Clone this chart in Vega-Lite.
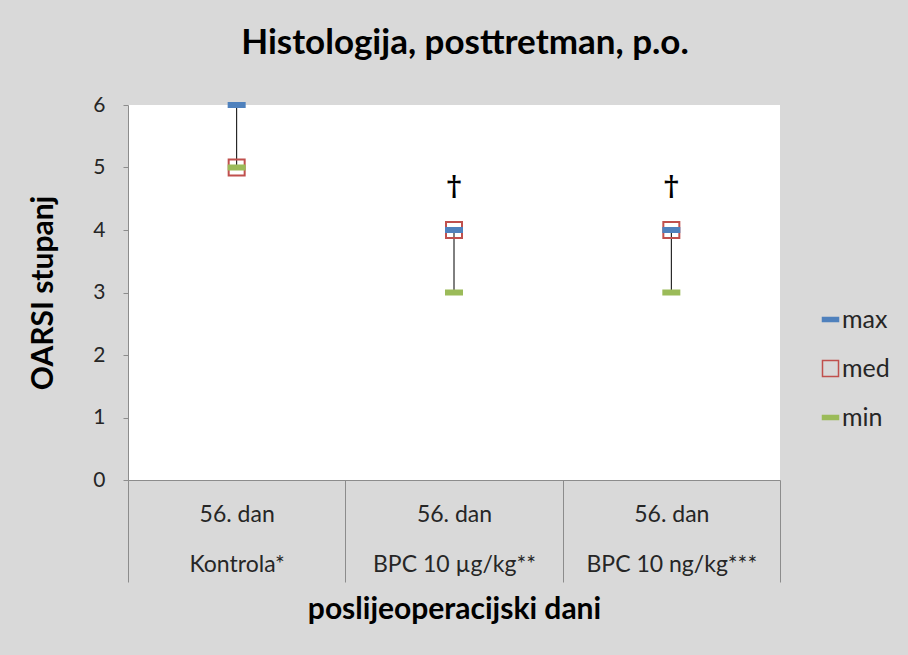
{
  "$schema": "https://vega.github.io/schema/vega-lite/v6.json",
  "width": 652,
  "height": 375,
  "autosize": {"type": "none"},
  "padding": {"left": 128, "top": 105, "right": 128, "bottom": 175},
  "background": "#d9d9d9",
  "title": {
    "text": "Histologija, posttretman, p.o.",
    "fontSize": 35,
    "fontWeight": "bold",
    "font": "Lato",
    "color": "#000000",
    "anchor": "middle",
    "frame": "group",
    "offset": 33,
    "dx": 11
  },
  "config": {
    "font": "Lato",
    "view": {"fill": "white", "stroke": null}
  },
  "datasets": {
    "stats": [
      {"group": "56. dan|Kontrola*", "min": 5, "med": 5, "max": 6},
      {"group": "56. dan|BPC 10 µg/kg**", "min": 3, "med": 4, "max": 4},
      {"group": "56. dan|BPC 10 ng/kg***", "min": 3, "med": 4, "max": 4}
    ],
    "pts": [
      {"group": "56. dan|Kontrola*", "series": "max", "value": 6},
      {"group": "56. dan|Kontrola*", "series": "med", "value": 5},
      {"group": "56. dan|Kontrola*", "series": "min", "value": 5},
      {"group": "56. dan|BPC 10 µg/kg**", "series": "med", "value": 4},
      {"group": "56. dan|BPC 10 µg/kg**", "series": "max", "value": 4},
      {"group": "56. dan|BPC 10 µg/kg**", "series": "min", "value": 3},
      {"group": "56. dan|BPC 10 ng/kg***", "series": "med", "value": 4},
      {"group": "56. dan|BPC 10 ng/kg***", "series": "max", "value": 4},
      {"group": "56. dan|BPC 10 ng/kg***", "series": "min", "value": 3}
    ],
    "dag": [
      {"group": "56. dan|BPC 10 µg/kg**", "y": 4.68, "t": "†"},
      {"group": "56. dan|BPC 10 ng/kg***", "y": 4.68, "t": "†"}
    ]
  },
  "encoding": {
    "x": {
      "field": "group",
      "type": "nominal",
      "sort": null,
      "scale": {"domain": ["56. dan|Kontrola*", "56. dan|BPC 10 µg/kg**", "56. dan|BPC 10 ng/kg***"]},
      "axis": {
        "title": "poslijeoperacijski  dani",
        "titleFontSize": 30,
        "titleFontWeight": "bold",
        "titleColor": "#000000",
        "titlePadding": 12,
        "labelExpr": "split(datum.label, '|')",
        "labelAngle": 0,
        "labelFontSize": 23,
        "labelColor": "#262626",
        "labelLineHeight": 50,
        "labelBaseline": "top",
        "labelPadding": -79,
        "tickBand": "extent",
        "tickSize": 102,
        "tickColor": "#8c8c8c",
        "domainColor": "#8c8c8c",
        "grid": false
      }
    }
  },
  "layer": [
    {
      "data": {"name": "stats"},
      "mark": {"type": "rule", "color": "#000000", "strokeWidth": 1},
      "encoding": {
        "y": {
          "field": "min",
          "type": "quantitative",
          "scale": {"domain": [0, 6], "nice": false},
          "axis": {
            "title": "OARSI stupanj",
            "titleFontSize": 30,
            "titleFontWeight": "bold",
            "titleColor": "#000000",
            "titlePadding": 34,
            "values": [0, 1, 2, 3, 4, 5, 6],
            "format": "d",
            "labelFontSize": 21,
            "labelColor": "#262626",
            "labelPadding": 18,
            "tickSize": 5,
            "tickColor": "#8c8c8c",
            "domainColor": "#8c8c8c",
            "grid": false
          }
        },
        "y2": {"field": "max"}
      }
    },
    {
      "data": {"name": "pts"},
      "mark": {"type": "point", "strokeWidth": 2, "opacity": 1, "size": 256},
      "encoding": {
        "y": {"field": "value", "type": "quantitative"},
        "shape": {
          "field": "series",
          "type": "nominal",
          "title": null,
          "scale": {
            "domain": ["max", "med", "min"],
            "range": ["M-1,-0.25L1,-0.25L1,0.25L-1,0.25Z", "square", "M-1,-0.25L1,-0.25L1,0.25L-1,0.25Z"]
          }
        },
        "stroke": {
          "field": "series",
          "type": "nominal",
          "title": null,
          "scale": {"domain": ["max", "med", "min"], "range": ["#4f81bd", "#c0504d", "#9bbb59"]}
        },
        "fill": {
          "field": "series",
          "type": "nominal",
          "title": null,
          "scale": {"domain": ["max", "med", "min"], "range": ["#4f81bd", "transparent", "#9bbb59"]},
          "legend": {
            "orient": "none",
            "legendX": 690,
            "legendY": 202,
            "labelFontSize": 25,
            "labelColor": "#262626",
            "rowPadding": 23,
            "symbolSize": 256,
            "symbolStrokeWidth": 1.5,
            "labelOffset": -1
          }
        }
      }
    },
    {
      "data": {"name": "dag"},
      "mark": {"type": "text", "fontSize": 28, "fontWeight": "bold", "font": "DejaVu Serif", "baseline": "middle", "color": "#000000"},
      "encoding": {
        "y": {"field": "y", "type": "quantitative"},
        "text": {"field": "t"}
      }
    }
  ]
}
